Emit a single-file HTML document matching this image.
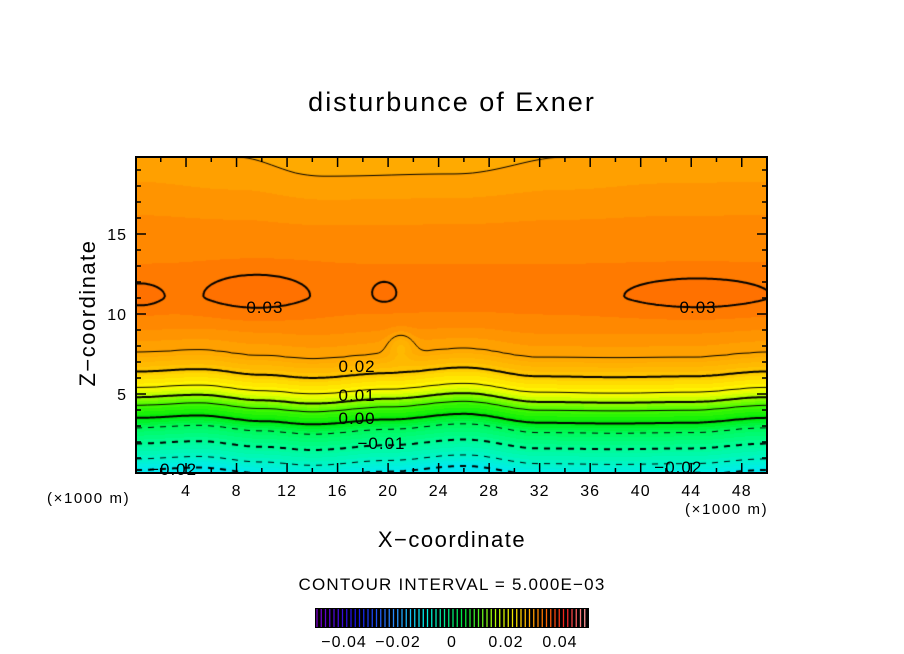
<!DOCTYPE html>
<html><head><meta charset="utf-8">
<style>
body{margin:0;background:#fff;width:904px;height:654px;position:relative;overflow:hidden;font-family:"Liberation Sans",sans-serif;}
.t{position:absolute;white-space:nowrap;color:#000;}
</style></head><body>
<div class="t" style="left:0;width:904px;text-align:center;top:87px;font-size:27px;letter-spacing:2px;">disturbunce of Exner</div>
<canvas id="c" width="632" height="316" style="position:absolute;left:136px;top:157px;"></canvas>
<svg id="ax" width="904" height="654" style="position:absolute;left:0;top:0;"></svg>
<div class="t" style="left:88px;top:313px;font-size:22px;transform:translate(-50%,-50%) rotate(-90deg);letter-spacing:1.5px;">Z−coordinate</div>
<div class="t" style="left:0;width:904px;text-align:center;top:527px;font-size:22px;letter-spacing:1.5px;">X−coordinate</div>
<div class="t" style="left:47px;top:490px;font-size:15px;letter-spacing:1.6px;">(×1000 m)</div>
<div class="t" style="left:685px;top:501px;font-size:15px;letter-spacing:1.6px;">(×1000 m)</div>
<div class="t" style="left:0;width:904px;text-align:center;top:575px;font-size:17px;letter-spacing:1.2px;">CONTOUR INTERVAL = 5.000E−03</div>
<svg id="cb" width="904" height="654" style="position:absolute;left:0;top:0;"></svg>
<div id="labels"></div>
<script>
// ---- data ----
const zProfile=[0,0.25,0.94,1.9,2.9,3.5,4.3,4.8,5.4,6.4,7.6,9.5,11,12.5,15,17,18.8,20];
const vProfile=[-0.022,-0.02,-0.015,-0.01,-0.005,0,0.005,0.01,0.015,0.02,0.025,0.0284,0.0293,0.029,0.028,0.0266,0.0252,0.0245];
const waveX=[0,5,10,14,20,26,32,38,44,50];
const waveDz=[0,0.15,-0.2,-0.4,-0.1,0.25,-0.3,-0.35,-0.3,0];
const topX=[0,8,15,25,34,42,50];
const topAdj=[0.0009,0.0004,-0.00045,-0.0003,0.0004,0.0008,0.0009];
const blobX=[0.3,9.6,19.7,44.5,21];
const blobZ=[11.2,11.4,11.4,11.3,8.0];
const blobAmp=[0.0019,0.0019,0.0019,0.0019,-0.0035];
const blobSx=[1.9,4.4,1.0,6.0,1.0];
const blobSz=[0.8,1.3,0.7,1.1,0.9];
const levels=[-0.02,-0.015,-0.01,-0.005,0,0.005,0.01,0.015,0.02,0.025,0.03];
const xTicks=[4,8,12,16,20,24,28,32,36,40,44,48];
const zTicks=[5,10,15];
const cbTicks=[-0.04,-0.02,0,0.02,0.04];
const cbTickLabels=["−0.04","−0.02","0","0.02","0.04"];
const labelText=["0.02","0.01","0.00","−0.01","0.03","0.03","−0.02","−0.02"];
const labelX=[17.5,17.5,17.5,19,10.2,44.5,2.5,42.5];
const labelZ=[6.6,4.8,3.4,1.8,10.3,10.3,0.2,0.3];
// ---- scales ----
const X0=135.5,X1=767,Y0=474,PX=(X1-X0)/50,PZ=16;
const sx=x=>X0+x*PX, sz=z=>Y0-z*PZ;
function interp(xs,ys,v){if(v<=xs[0])return ys[0];for(let i=1;i<xs.length;i++){if(v<=xs[i]){const t=(v-xs[i-1])/(xs[i]-xs[i-1]);const s=(1-Math.cos(Math.PI*t))/2;return ys[i-1]+(ys[i]-ys[i-1])*s;}}return ys[ys.length-1];}
function lin(xs,ys,v){if(v<=xs[0])return ys[0];for(let i=1;i<xs.length;i++){if(v<=xs[i]){const t=(v-xs[i-1])/(xs[i]-xs[i-1]);return ys[i-1]+(ys[i]-ys[i-1])*t;}}return ys[ys.length-1];}
function field(x,z){
 const w=z<8?1:Math.max(0,1-(z-8)/3);
 const d=interp(waveX,waveDz,x)*w;
 let v=lin(zProfile,vProfile,z-d);
 v+=interp(topX,topAdj,x)*Math.max(0,(z-14)/6);
 for(let i=0;i<blobX.length;i++){const a=(x-blobX[i])/blobSx[i],b=(z-blobZ[i])/blobSz[i];v+=blobAmp[i]*Math.exp(-(a*a+b*b));}
 return v;
}
const cAnch=[-0.03,-0.02,-0.015,-0.01,-0.005,0,0.005,0.01,0.0125,0.015,0.0175,0.02,0.0225,0.025,0.0275,0.03,0.033];
const cCol=[[0,215,255],[0,235,240],[0,245,200],[0,252,150],[0,250,90],[0,235,10],[70,250,0],[165,255,0],[220,255,0],[255,250,0],[255,225,0],[255,200,0],[255,180,0],[255,166,0],[255,142,0],[255,116,0],[255,100,0]];
function col(v){const q=0.00125;v=Math.floor(v/q)*q+q/2;if(v<=cAnch[0])return cCol[0];for(let i=1;i<cAnch.length;i++){if(v<=cAnch[i]){const t=(v-cAnch[i-1])/(cAnch[i]-cAnch[i-1]);return cCol[i-1].map((c,k)=>Math.round(c+(cCol[i][k]-c)*t));}}return cCol[cCol.length-1];}
// ---- fill ----
const cv=document.getElementById('c'),ctx=cv.getContext('2d');
const W=cv.width,H=cv.height,img=ctx.createImageData(W,H);
for(let j=0;j<H;j++)for(let i=0;i<W;i++){const x=(i+136.5-X0)/PX,z=(Y0-(j+157.5))/PZ;const c=col(field(x,z));const p=(j*W+i)*4;img.data[p]=c[0];img.data[p+1]=c[1];img.data[p+2]=c[2];img.data[p+3]=255;}
ctx.putImageData(img,0,0);
// ---- contours (marching squares) ----
const G=2,nx=Math.ceil(W/G)+1,ny=Math.ceil(H/G)+1,F=[];
for(let j=0;j<ny;j++){F[j]=[];for(let i=0;i<nx;i++){F[j][i]=field((i*G+136-X0)/PX,(Y0-(j*G+157))/PZ);}}
levels.forEach(L=>{
 const k=Math.round(L*1000)/1000;const major=Math.abs(Math.round(k*100)-k*100)<1e-6;
 ctx.strokeStyle='#000';ctx.lineWidth=major?2:1;
 ctx.beginPath();
 const seg=(p,q)=>{if(L<0){const xm=(p[0]+q[0])/2;if(Math.floor(xm/6)%2===1)return;}ctx.moveTo(p[0],p[1]);ctx.lineTo(q[0],q[1]);};
 for(let j=0;j<ny-1;j++)for(let i=0;i<nx-1;i++){
  const a=F[j][i],b=F[j][i+1],c=F[j+1][i+1],d=F[j+1][i];const pts=[];
  const e=(p,q,x1,y1,x2,y2)=>{if((p<L)!==(q<L)){const t=(L-p)/(q-p);pts.push([x1+(x2-x1)*t,y1+(y2-y1)*t]);}};
  const x=i*G,y=j*G;
  e(a,b,x,y,x+G,y);e(b,c,x+G,y,x+G,y+G);e(d,c,x,y+G,x+G,y+G);e(a,d,x,y,x,y+G);
  if(pts.length>=2)seg(pts[0],pts[1]);
  if(pts.length===4)seg(pts[2],pts[3]);
 }
 ctx.stroke();
});
// ---- labels ----
const lb=document.getElementById('labels');
labelText.forEach((t,i)=>{const d=document.createElement('div');d.className='t';


d.style.cssText='left:'+(sx(labelX[i])-18)+'px;top:'+(sz(labelZ[i])-11)+'px;font-size:17px;letter-spacing:1px;';d.textContent=t;lb.appendChild(d);});
// ---- axes ----
const ns='http://www.w3.org/2000/svg',ax=document.getElementById('ax');
function el(p,tag,attrs,txt){const e=document.createElementNS(ns,tag);for(const k in attrs)e.setAttribute(k,attrs[k]);if(txt!==undefined)e.textContent=txt;p.appendChild(e);return e;}
const frame=el(ax,'rect',{x:136,y:157,width:631,height:316,fill:'none',stroke:'#000','stroke-width':2});


for(let x=2;x<50;x+=2){const m=x%4===0,L=m?10:5;el(ax,'line',{x1:sx(x),x2:sx(x),y1:473,y2:473-L,stroke:'#000','stroke-width':1.5});el(ax,'line',{x1:sx(x),x2:sx(x),y1:157,y2:157+L,stroke:'#000','stroke-width':1.5});}
for(let z=1;z<20;z++){const m=z%5===0,L=m?10:5;el(ax,'line',{x1:136,x2:136+L,y1:sz(z),y2:sz(z),stroke:'#000','stroke-width':1.5});el(ax,'line',{x1:767,x2:767-L,y1:sz(z),y2:sz(z),stroke:'#000','stroke-width':1.5});}
xTicks.forEach(x=>{const t=el(ax,'text',{x:sx(x),y:496,'text-anchor':'middle','font-size':16,'letter-spacing':1,'font-family':'Liberation Sans'},String(x));

});
zTicks.forEach(z=>{const t=el(ax,'text',{x:127,y:sz(z)+6,'text-anchor':'end','font-size':16,'letter-spacing':1,'font-family':'Liberation Sans'},String(z));

});
// ---- colorbar ----
const cb=document.getElementById('cb');
el(cb,'rect',{x:315,y:608,width:274,height:20,fill:'#000'});
const cbStops=[[0,[120,0,200]],[0.15,[20,20,230]],[0.3,[40,150,255]],[0.4,[0,240,240]],[0.55,[0,230,60]],[0.68,[200,255,0]],[0.75,[255,220,0]],[0.85,[255,110,0]],[0.93,[240,30,30]],[1,[255,150,150]]];
function cbc(t){for(let i=1;i<cbStops.length;i++){if(t<=cbStops[i][0]){const u=(t-cbStops[i-1][0])/(cbStops[i][0]-cbStops[i-1][0]);const c=cbStops[i-1][1].map((v,k)=>Math.round(v+(cbStops[i][1][k]-v)*u));return 'rgb('+c+')';}}return 'rgb(255,150,150)';}
for(let i=0;i<64;i++){const x=317+i*4.25;el(cb,'line',{x1:x,x2:x,y1:609,y2:627,stroke:cbc(i/63),'stroke-width':1.3});}
const cbx=v=>317+(v+0.05)/0.1*270;
cbTicks.forEach((v,i)=>{const t=el(cb,'text',{x:cbx(v),y:647,'text-anchor':'middle','font-size':16,'letter-spacing':1,'font-family':'Liberation Sans'},cbTickLabels[i]);

});
</script>
</body></html>
